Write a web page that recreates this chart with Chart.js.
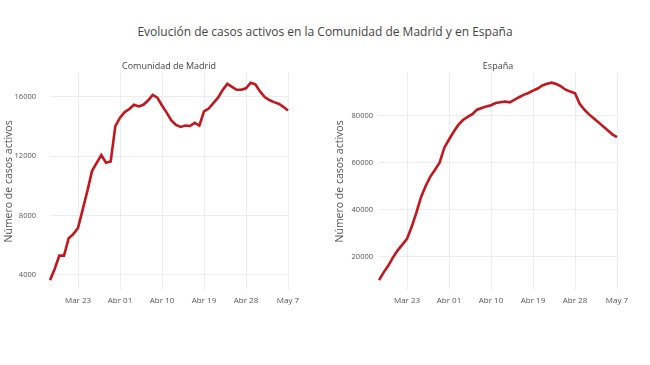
<!DOCTYPE html>
<html>
<head>
<meta charset="utf-8">
<script src="https://cdn.jsdelivr.net/npm/chart.js@4.4.1/dist/chart.umd.min.js"></script>
<style>
  html, body { margin: 0; padding: 0; background: #ffffff; }
  #wrap { position: relative; width: 650px; height: 365px; overflow: hidden; background: #fff; }
  #mainTitle { position: absolute; left: 0; top: 24px; width: 650px; text-align: center;
    font-family: "Open Sans", sans-serif; font-size: 12px; color: #444; line-height: 16px; }
  .box { position: absolute; top: 0; height: 365px; }
</style>
</head>
<body>
<div id="wrap">
  <div id="mainTitle">Evolución de casos activos en la Comunidad de Madrid y en España</div>
  <div class="box" style="left:0;width:320px;"><canvas id="cMadrid"></canvas></div>
  <div class="box" style="left:325px;width:325px;"><canvas id="cEspana"></canvas></div>
</div>
<script>
// ---- data ----
const dates = [
  '2020-03-17','2020-03-18','2020-03-19','2020-03-20','2020-03-21','2020-03-22','2020-03-23',
  '2020-03-24','2020-03-25','2020-03-26','2020-03-27','2020-03-28','2020-03-29','2020-03-30',
  '2020-03-31','2020-04-01','2020-04-02','2020-04-03','2020-04-04','2020-04-05','2020-04-06',
  '2020-04-07','2020-04-08','2020-04-09','2020-04-10','2020-04-11','2020-04-12','2020-04-13',
  '2020-04-14','2020-04-15','2020-04-16','2020-04-17','2020-04-18','2020-04-19','2020-04-20',
  '2020-04-21','2020-04-22','2020-04-23','2020-04-24','2020-04-25','2020-04-26','2020-04-27',
  '2020-04-28','2020-04-29','2020-04-30','2020-05-01','2020-05-02','2020-05-03','2020-05-04',
  '2020-05-05','2020-05-06','2020-05-07'
];
const madrid = [
  3650, 4400, 5300, 5300, 6480, 6750, 7170,
  8400, 9650, 11000, 11550, 12080, 11560, 11650,
  14030, 14600, 14980, 15180, 15470, 15360, 15470,
  15760, 16130, 15950, 15420, 14940, 14420, 14110,
  13980, 14070, 14040, 14250, 14070, 15020, 15220,
  15580, 15950, 16460, 16880, 16680, 16480, 16480,
  16580, 16960, 16850, 16370, 15990, 15790, 15650,
  15540, 15330, 15080
];
const espana = [
  9900, 13200, 16100, 19600, 22600, 25000, 27500,
  32600, 38600, 45200, 50000, 54000, 56900, 60000,
  66300, 69800, 73100, 76000, 78100, 79400, 80600,
  82500, 83200, 83900, 84400, 85300, 85700, 86000,
  85600, 86700, 87800, 88800, 89600, 90600, 91500,
  92800, 93500, 94000, 93400, 92400, 91000, 90200,
  89500, 85000, 82500, 80500, 78800, 77200, 75400,
  73700, 72000, 70800
];
const tickDates  = ['2020-03-23','2020-04-01','2020-04-10','2020-04-19','2020-04-28','2020-05-07'];
const tickLabels = ['Mar 23','Abr 01','Abr 10','Abr 19','Abr 28','May 7'];
const madridYTicks = [4000, 8000, 12000, 16000];
const espanaYTicks = [20000, 40000, 60000, 80000];

const FONT = '"Open Sans", sans-serif';
const GRID = '#ededed';
const LINE = '#c3161d';

function paddedRange(arr) {
  const lo = Math.min(...arr), hi = Math.max(...arr);
  const pad = (hi - lo) * 0.05;
  return [lo - pad, hi + pad];
}

function makeChart(id, title, values, yTicks, cfg) {
  const [ymin, ymax] = paddedRange(values);
  return new Chart(document.getElementById(id), {
    type: 'line',
    data: {
      labels: dates,
      datasets: [{
        data: values,
        borderColor: LINE,
        borderWidth: 2.6,
        pointRadius: 0,
        pointHoverRadius: 0,
        tension: 0,
        fill: false
      }]
    },
    options: {
      responsive: true,
      maintainAspectRatio: false,
      animation: false,
      events: [],
      layout: { padding: { left: 0, top: 55, right: cfg.padRight, bottom: 55 } },
      plugins: {
        legend: { display: false },
        tooltip: { enabled: false },
        title: {
          display: true, text: title, fullSize: false,
          color: '#444', font: { family: FONT, size: 9, weight: 'normal' },
          padding: { top: 6, bottom: 1 }
        }
      },
      scales: {
        x: {
          type: 'category',
          offset: false,
          grid: { color: GRID, lineWidth: 1, drawTicks: false },
          border: { display: false },
          afterBuildTicks: (axis) => {
            axis.ticks = axis.ticks.filter(t => tickDates.includes(dates[t.value]));
          },
          afterFit: (axis) => { axis.height = 20; },
          ticks: {
            autoSkip: false, maxRotation: 0, minRotation: 0, padding: 6,
            color: '#555', font: { family: FONT, size: 8 },
            callback: function (value) {
              const i = tickDates.indexOf(dates[value]);
              return i >= 0 ? tickLabels[i] : '';
            }
          }
        },
        y: {
          min: ymin, max: ymax,
          grid: { color: GRID, lineWidth: 1, drawTicks: false },
          border: { display: false },
          afterBuildTicks: (axis) => {
            axis.ticks = yTicks.map(v => ({ value: v }));
          },
          afterFit: (axis) => { axis.width = cfg.yWidth; },
          ticks: {
            padding: cfg.tickPad,
            color: '#555', font: { family: FONT, size: 7.5 },
            callback: (v) => String(v)
          },
          title: {
            display: true, text: 'Número de casos activos',
            color: '#555', font: { family: FONT, size: 10.5 },
            padding: { top: cfg.titlePad, bottom: 0 }
          }
        }
      }
    }
  });
}

makeChart('cMadrid', 'Comunidad de Madrid', madrid, madridYTicks,
  { padRight: 32, yWidth: 50, tickPad: 14, titlePad: 3 });
makeChart('cEspana', 'España', espana, espanaYTicks,
  { padRight: 33, yWidth: 54, tickPad: 6, titlePad: 9 });
</script>
</body>
</html>
